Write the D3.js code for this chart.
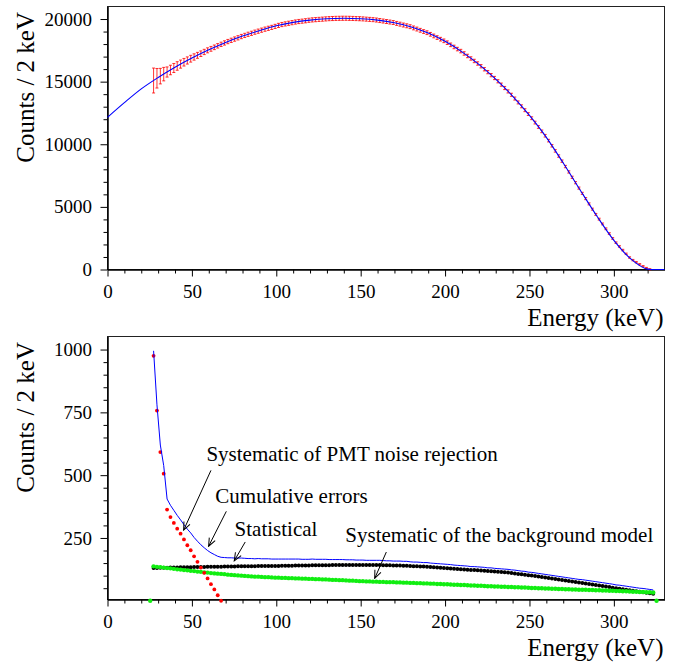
<!DOCTYPE html>
<html>
<head>
<meta charset="utf-8">
<script src="https://cdn.jsdelivr.net/npm/d3@7"></script>
<style>
  body { margin: 0; background: #fff; }
  svg { display: block; }
  svg text { font-family: "Liberation Serif", "Times New Roman", serif; }
</style>
</head>
<body>
<div id="chart"></div>
<script>
// 2 keV bins, first bin centre
const binStart = 27.3
const binWidth = 2

// top panel: measured counts per bin
const counts = [
  15090,15270,15440,15600,15770,15930,16090,16250,16400,16550,
  16690,16830,16970,17100,17230,17370,17500,17620,17740,17860,
  17980,18090,18200,18300,18400,18500,18600,18690,18780,18860,
  18950,19030,19110,19190,19260,19330,19410,19490,19560,19610,
  19660,19710,19760,19800,19830,19860,19900,19930,19950,19970,
  19990,20010,20030,20040,20050,20055,20060,20060,20055,20045,
  20035,20025,20010,19990,19970,19950,19920,19880,19840,19800,
  19760,19720,19650,19590,19520,19460,19390,19290,19200,19100,
  19000,18910,18780,18650,18520,18390,18260,18110,17940,17770,
  17600,17440,17250,17050,16850,16650,16450,16230,15990,15760,
  15520,15290,15030,14760,14490,14220,13950,13650,13340,13030,
  12720,12410,12080,11730,11380,11030,10680,10290,9880,9470,
  9060,8650,8220,7790,7360,6930,6500,6080,5660,5240,
  4820,4400,4020,3640,3250,2870,2480,2140,1840,1550,
  1250,960,750,580,420,260,120,20,0
]

// total (cumulative) error per bin - error bars on top, blue line at bottom
const totalErr = [
  995,780,620,538,405,380,360,340,322,303,
  285,270,252,237,223,211,200,191,184,177,
  173,172,171,171,170,170,170,169,168,168,
  167,168,167,167,167,166,166,166,166,166,
  166,166,166,166,165,165,165,166,165,165,
  165,165,164,164,164,164,164,163,163,163,
  162,162,162,161,161,161,161,161,160,159,
  159,158,158,158,157,157,155,154,154,153,
  152,152,150,149,148,147,146,145,144,142,
  141,140,139,138,136,136,135,134,133,131,
  131,129,128,127,126,125,123,122,120,118,
  117,114,113,111,109,107,105,103,101,99,
  97,95,93,91,89,87,85,84,82,80,
  78,76,74,72,70,68,66,63,62,60,
  58,56,54,52,50,49,47,45,43
]

// statistical error per bin
const statErr = [
  130,130,131,131,131,132,132,132,133,133,
  133,133,134,134,134,134,135,135,135,135,
  135,136,136,136,136,137,137,137,137,137,
  137,138,138,138,138,138,138,138,139,139,
  139,139,140,140,140,140,140,141,141,141,
  141,141,141,142,142,142,142,142,142,142,
  142,142,142,142,142,142,142,142,141,141,
  141,140,140,140,139,139,138,137,137,136,
  136,135,134,133,132,131,130,129,128,127,
  126,125,124,123,122,122,121,120,119,118,
  117,116,115,114,113,112,110,109,107,106,
  104,102,101,99,97,95,93,91,89,87,
  85,83,81,79,77,75,73,71,69,67,
  65,63,61,59,57,55,52,50,48,46,
  44,42,40,38,36,34,32,30,28
]

// systematic of the background model per bin
const bkgErr = [
  137,135,134,132,130,129,127,125,124,122,
  121,119,118,116,115,113,112,110,109,108,
  107,106,104,103,102,101,100,99,98,97,
  96,96,95,94,94,93,92,92,91,91,
  90,90,89,89,88,88,87,87,86,86,
  85,85,84,83,83,82,82,81,80,80,
  79,78,78,77,77,76,76,75,75,74,
  74,74,73,73,72,72,71,71,70,70,
  69,69,68,68,67,67,66,66,65,64,
  64,63,63,62,61,61,60,60,59,58,
  58,57,57,56,56,55,55,54,54,53,
  53,52,51,51,50,50,49,49,48,48,
  47,47,46,46,45,45,44,44,44,43,
  43,42,42,41,41,40,40,39,39,38,
  38,37,36,36,35,35,34,34,33
]
// empty neighbour bins of the background histogram
const bkgEdgeEnergy = [25.3, 325.3]
const bkgEdgeVals = [0, 0]

// systematic of PMT noise rejection (first bins only)
const pmtErr = [975,757,592,506,363,333,310,287,267,244,221,201,177,155,132,111,89,66,45,22,0]

// fitted spectrum
const fitEnergy = [0,10,20,30,40,50,60,70,80,90,100,110,120,130,140,150,160,170,180,190,200,
                   210,220,230,240,250,260,270,280,290,300,310,320,322,330]
const fitCounts = [12150,13320,14420,15330,16150,16880,17540,18130,18640,19070,19460,19730,19910,20020,
                   20060,20020,19910,19700,19370,18880,18220,17380,16380,15200,13850,12300,10550,
                   8500,6350,4250,2330,850,30,0,0]

const xTicks = [0,50,100,150,200,250,300]
const topYTicks = [0,5000,10000,15000,20000]
const botYTicks = [250,500,750,1000]

const notes = [
  {text: 'Systematic of PMT noise rejection', tx: 58.6, ty: 556, fx: 61.3, fy: 519, ex: 45.1, ey: 281},
  {text: 'Cumulative errors', tx: 63.9, ty: 389, fx: 70.4, fy: 356, ex: 59.9, ey: 217},
  {text: 'Statistical', tx: 75.3, ty: 257, fx: 81.6, fy: 234, ex: 75.1, ey: 159},
  {text: 'Systematic of the background model', tx: 140.9, ty: 234, fx: 165.2, fy: 194, ex: 158.3, ey: 89}
]

const energy = counts.map((d, i) => binStart + i * binWidth)
const serif = '"Liberation Serif", "Times New Roman", serif'

const W = 686, H = 662
const svg = d3.select('#chart').append('svg')
    .attr('width', W)
    .attr('height', H)

svg.append('rect').attr('width', W).attr('height', H).attr('fill', '#fff')

svg.append('defs').append('marker')
    .attr('id', 'arrow')
    .attr('viewBox', '-9 -5 10 10')
    .attr('refX', 0).attr('refY', 0)
    .attr('markerWidth', 10).attr('markerHeight', 10)
    .attr('markerUnits', 'userSpaceOnUse')
    .attr('orient', 'auto')
    .append('path')
    .attr('d', 'M-8,-3.3L0,0L-8,3.3')
    .attr('fill', 'none')
    .attr('stroke', '#000')
    .attr('stroke-width', 1)

const xTop = d3.scaleLinear().domain([0, 330]).range([107.5, 664.5])
const yTop = d3.scaleLinear().domain([0, 21000]).range([269.5, 6.5])
const xBot = d3.scaleLinear().domain([0, 330]).range([107.5, 664.5])
const yBot = d3.scaleLinear().domain([5, 1052]).range([599.5, 336.5])

function minorTicks(lo, hi, step, majors) {
    return d3.range(lo, hi + 0.001, step).filter(v => !majors.includes(v))
}

function drawAxes(x, y, yMajor, yMinor, yTitleEnd) {
    const g = svg.append('g')
    const [x0, x1] = x.range()
    const [y0, y1] = y.range()

    // frame
    g.append('rect')
        .attr('x', x0).attr('y', y1)
        .attr('width', x1 - x0).attr('height', y0 - y1)
        .attr('fill', 'none').attr('stroke', '#222').attr('stroke-width', 1)

    const xMinor = minorTicks(0, 320, 10, xTicks)

    g.append('g').attr('transform', `translate(0,${y0})`)
        .call(d3.axisBottom(x).tickValues(xMinor).tickSize(4).tickSizeOuter(0).tickFormat(''))
    g.append('g').attr('transform', `translate(0,${y0})`)
        .call(d3.axisBottom(x).tickValues(xTicks).tickSize(7).tickSizeOuter(0).tickPadding(8.5).tickFormat(d3.format('d')))

    g.append('g').attr('transform', `translate(${x0},0)`)
        .call(d3.axisLeft(y).tickValues(yMinor).tickSize(4).tickSizeOuter(0).tickFormat(''))
    g.append('g').attr('transform', `translate(${x0},0)`)
        .call(d3.axisLeft(y).tickValues(yMajor).tickSize(7).tickSizeOuter(0).tickPadding(8.5).tickFormat(d3.format('d')))

    g.selectAll('.tick line').attr('stroke', '#000')
    g.selectAll('.domain').attr('stroke', '#000')
    g.selectAll('.tick text')
        .attr('font-family', serif)
        .attr('font-size', 19)
        .attr('fill', '#000')

    // axis titles
    g.append('text')
        .attr('x', x1 - 1).attr('y', y0 + 56)
        .attr('text-anchor', 'end')
        .attr('font-family', serif)
        .attr('font-size', 25)
        .text('Energy (keV)')
    g.append('text')
        .attr('transform', `translate(33.5,${yTitleEnd}) rotate(-90)`)
        .attr('text-anchor', 'end')
        .attr('font-family', serif)
        .attr('font-size', 25)
        .text('Counts / 2 keV')
}

// ---------- top panel ----------
drawAxes(xTop, yTop, topYTicks, minorTicks(1000, 20000, 1000, topYTicks), 12)

const bars = svg.append('g')
    .attr('stroke', '#f00')
    .attr('stroke-opacity', 0.8)
    .attr('stroke-width', 1)
    .selectAll('g')
    .data(counts.map((c, i) => ({e: energy[i], c: c, err: totalErr[i]})).filter(d => d.c > 0))
    .join('g')
    .attr('transform', d => `translate(${xTop(d.e)},0)`)

bars.append('line')
    .attr('y1', d => yTop(d.c + d.err))
    .attr('y2', d => yTop(d.c - d.err))
bars.append('line')
    .attr('x1', -1.5).attr('x2', 1.5)
    .attr('y1', d => yTop(d.c + d.err)).attr('y2', d => yTop(d.c + d.err))
bars.append('line')
    .attr('x1', -1.5).attr('x2', 1.5)
    .attr('y1', d => yTop(d.c - d.err)).attr('y2', d => yTop(d.c - d.err))

const fitLine = d3.line()
    .x((d, i) => xTop(fitEnergy[i]))
    .y(d => yTop(d))
    .curve(d3.curveMonotoneX)

svg.append('path')
    .attr('d', fitLine(fitCounts))
    .attr('fill', 'none')
    .attr('stroke', '#0000ff')
    .attr('stroke-width', 1.1)

// ---------- bottom panel ----------
drawAxes(xBot, yBot, botYTicks, minorTicks(50, 1000, 50, botYTicks), 342)

svg.append('g')
    .selectAll('circle')
    .data(statErr)
    .join('circle')
    .attr('cx', (d, i) => xBot(energy[i]))
    .attr('cy', d => yBot(d))
    .attr('r', 2)
    .attr('fill', '#000')

svg.append('g')
    .selectAll('circle')
    .data(bkgErr.map((v, i) => [energy[i], v]).concat(bkgEdgeEnergy.map((e, i) => [e, bkgEdgeVals[i]])))
    .join('circle')
    .attr('cx', d => xBot(d[0]))
    .attr('cy', d => yBot(d[1]))
    .attr('r', 2.2)
    .attr('fill', '#11ee11')

svg.append('g')
    .selectAll('circle')
    .data(pmtErr)
    .join('circle')
    .attr('cx', (d, i) => xBot(energy[i]))
    .attr('cy', d => yBot(d))
    .attr('r', 1.9)
    .attr('fill', '#f00')

const totLine = d3.line()
    .x((d, i) => xBot(energy[i]))
    .y(d => yBot(d))

svg.append('path')
    .attr('d', totLine(totalErr))
    .attr('fill', 'none')
    .attr('stroke', '#0000ff')
    .attr('stroke-width', 1)

// annotations
const ann = svg.append('g')
ann.selectAll('text')
    .data(notes)
    .join('text')
    .attr('x', d => xBot(d.tx))
    .attr('y', d => yBot(d.ty))
    .attr('font-family', serif)
    .attr('font-size', 21)
    .text(d => d.text)

ann.selectAll('line')
    .data(notes)
    .join('line')
    .attr('x1', d => xBot(d.fx)).attr('y1', d => yBot(d.fy))
    .attr('x2', d => xBot(d.ex)).attr('y2', d => yBot(d.ey))
    .attr('stroke', '#000')
    .attr('stroke-width', 1)
    .attr('marker-end', 'url(#arrow)')
</script>
</body>
</html>
